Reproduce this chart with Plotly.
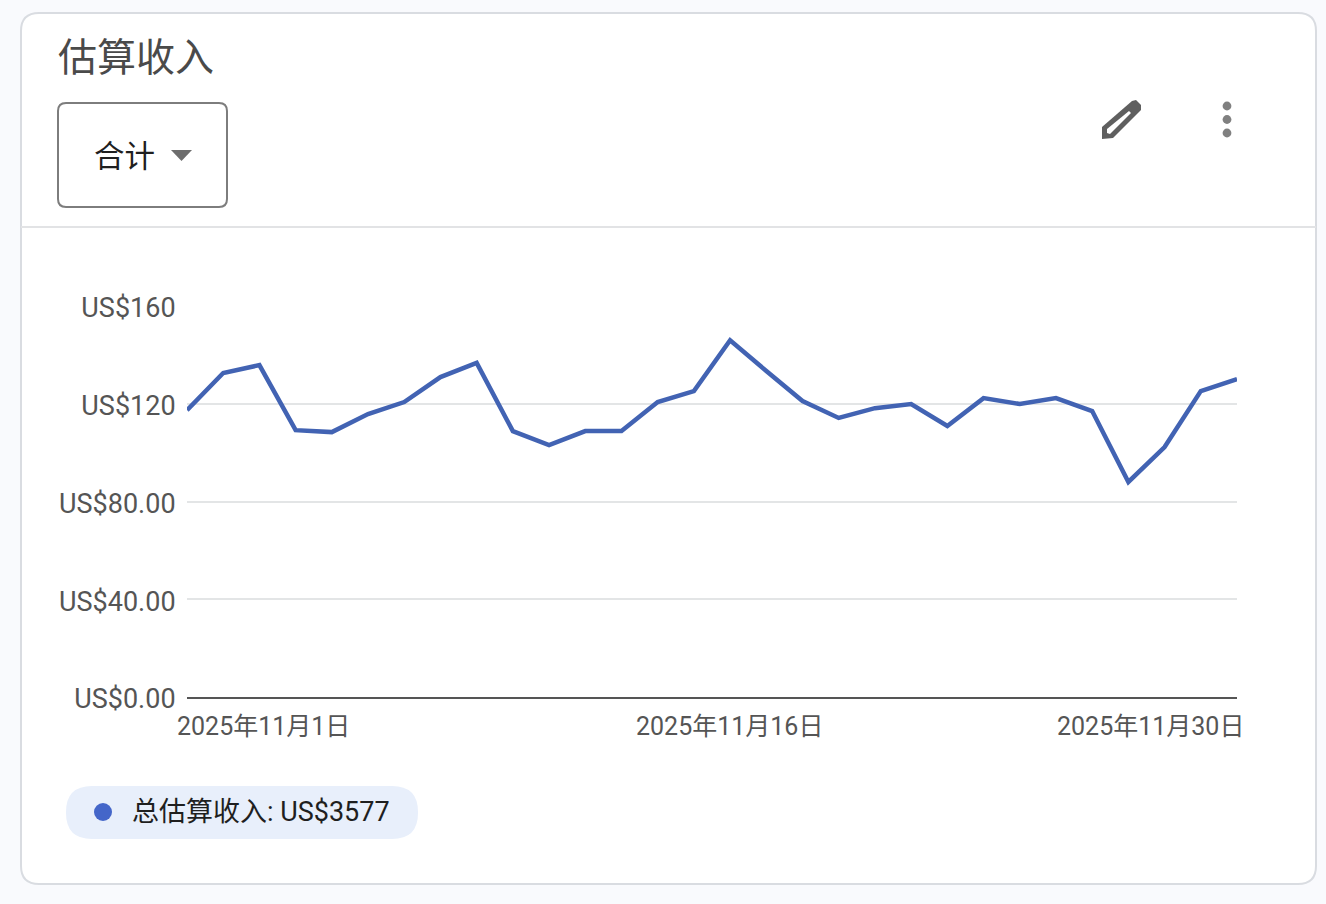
import pandas as pd
import plotly.graph_objects as go

FONT = "Roboto, 'Noto Sans CJK SC', sans-serif"

dates = pd.date_range('2025-11-01', '2025-11-30')
revenue = [117.4, 132.6, 135.8, 109.2, 108.4, 115.8, 120.7, 130.9, 136.7, 108.8,
           103.1, 108.8, 108.8, 120.7, 125.2, 146.0, 133.4, 121.1, 114.2, 118.2,
           119.9, 110.9, 122.3, 119.9, 122.3, 117.0, 88.0, 102.3, 125.2, 130.1]

y_ticks = [0, 40, 80, 120, 160]
y_labels = ['US$0.00', 'US$40.00', 'US$80.00', 'US$120', 'US$160']
x_ticks = ['2025-11-01', '2025-11-16', '2025-11-30']
x_labels = ['2025年11月1日', '2025年11月16日', '2025年11月30日']

W, H = 1326, 904
L, R, T, B = 187, 1237, 306, 697


# screen pixels -> paper coords, everything outside the plot is placed this way
def px(x):
    return (x - L) / (R - L)


def py(y):
    return (B - y) / (B - T)


def round_rect(x0, y0, x1, y1, r):
    p = [
        f'M{px(x0 + r)},{py(y0)}', f'L{px(x1 - r)},{py(y0)}',
        f'Q{px(x1)},{py(y0)} {px(x1)},{py(y0 + r)}', f'L{px(x1)},{py(y1 - r)}',
        f'Q{px(x1)},{py(y1)} {px(x1 - r)},{py(y1)}', f'L{px(x0 + r)},{py(y1)}',
        f'Q{px(x0)},{py(y1)} {px(x0)},{py(y1 - r)}', f'L{px(x0)},{py(y0 + r)}',
        f'Q{px(x0)},{py(y0)} {px(x0 + r)},{py(y0)}', 'Z',
    ]
    return ' '.join(p)


def polygon(points):
    return 'M' + ' L'.join(f'{px(x)},{py(y)}' for x, y in points) + ' Z'


def path_shape(path, fill, line_color=None, line_width=0):
    return dict(type='path', xref='paper', yref='paper', path=path, fillcolor=fill,
                line=dict(color=line_color or fill, width=line_width), layer='below')


def dot(cx, cy, r, color):
    return dict(type='circle', xref='paper', yref='paper',
                x0=px(cx - r), x1=px(cx + r), y0=py(cy + r), y1=py(cy - r),
                fillcolor=color, line=dict(width=0), layer='below')


fig = go.Figure()

fig.add_trace(go.Scatter(
    x=dates,
    y=revenue,
    mode='lines',
    name='总估算收入',
    line=dict(color='#4263b3', width=4.5),
    cliponaxis=False
))

shapes = [
    path_shape(round_rect(21, 13, 1316, 884, 18), '#ffffff', '#d9dce1', 2),
    dict(type='line', xref='paper', yref='paper', x0=px(21), x1=px(1316), y0=py(227), y1=py(227),
         line=dict(color='#e2e3e5', width=2), layer='below'),
    path_shape(round_rect(58, 103, 227, 207, 8), '#ffffff', '#7d7d7d', 2),
    path_shape(polygon([(171, 150), (192, 150), (181.5, 161)]), '#6d6d6d'),
    # pencil
    path_shape(polygon([(1102, 139), (1102, 127), (1132, 101), (1136, 100), (1141, 105),
                        (1141, 110), (1113, 138)]), '#5f5f5f'),
    path_shape(polygon([(1107, 133), (1107, 129), (1129, 111), (1131, 113), (1110, 134)]), '#ffffff'),
    dot(1227, 106, 4.4, '#808080'),
    dot(1227, 119.5, 4.4, '#808080'),
    dot(1227, 133, 4.4, '#808080'),
    path_shape(round_rect(66, 786, 418, 839, 26), '#e8effb'),
    dot(103, 812, 9, '#4466c9'),
]

annotations = [
    dict(text='估算收入', x=px(57), y=py(58), xanchor='left', yanchor='middle',
         font=dict(size=39, color='#4a4a4a')),
    dict(text='合计', x=px(93), y=py(156), xanchor='left', yanchor='middle',
         font=dict(size=30.5, color='#1f1f1f')),
    dict(text='总估算收入:\u00a0US$3577', x=px(131), y=py(812), xanchor='left', yanchor='middle',
         font=dict(size=27, color='#1f1f1f')),
]

# outer date labels are pulled inside the plot, so they can't be normal tick labels
anchors = [('left', -11), ('center', -1), ('right', 8)]
for tick, label, (anchor, shift) in zip(x_ticks, x_labels, anchors):
    annotations.append(dict(text=label, x=tick, xref='x', y=py(726), yref='paper',
                            xanchor=anchor, xshift=shift, yanchor='middle',
                            font=dict(size=25, color='#555555')))
for a in annotations:
    a.setdefault('xref', 'paper')
    a.setdefault('yref', 'paper')
    a['showarrow'] = False
    a['borderpad'] = 0

fig.update_layout(
    width=W,
    height=H,
    margin=dict(l=L, r=W - R, t=T, b=H - B),
    paper_bgcolor='#f9fafd',
    plot_bgcolor='rgba(0,0,0,0)',
    font=dict(family=FONT),
    showlegend=False,
    shapes=shapes,
    annotations=annotations,
    xaxis=dict(
        range=[dates[0], dates[-1]],
        showgrid=False,
        showticklabels=False,
        ticks='',
        showline=True,
        linecolor='#555555',
        linewidth=2,
        zeroline=False
    ),
    yaxis=dict(
        range=[0, 160],
        tickvals=y_ticks,
        ticktext=y_labels,
        ticks='outside',
        ticklen=5,
        tickcolor='rgba(0,0,0,0)',
        tickfont=dict(size=27, color='#555555'),
        ticklabelshift=2,
        showgrid=True,
        gridcolor='#e3e5e6',
        gridwidth=2,
        zeroline=False
    )
)

fig.write_html("out.html", config=dict(displayModeBar=False),
               post_script="document.body.style.margin='0';")
